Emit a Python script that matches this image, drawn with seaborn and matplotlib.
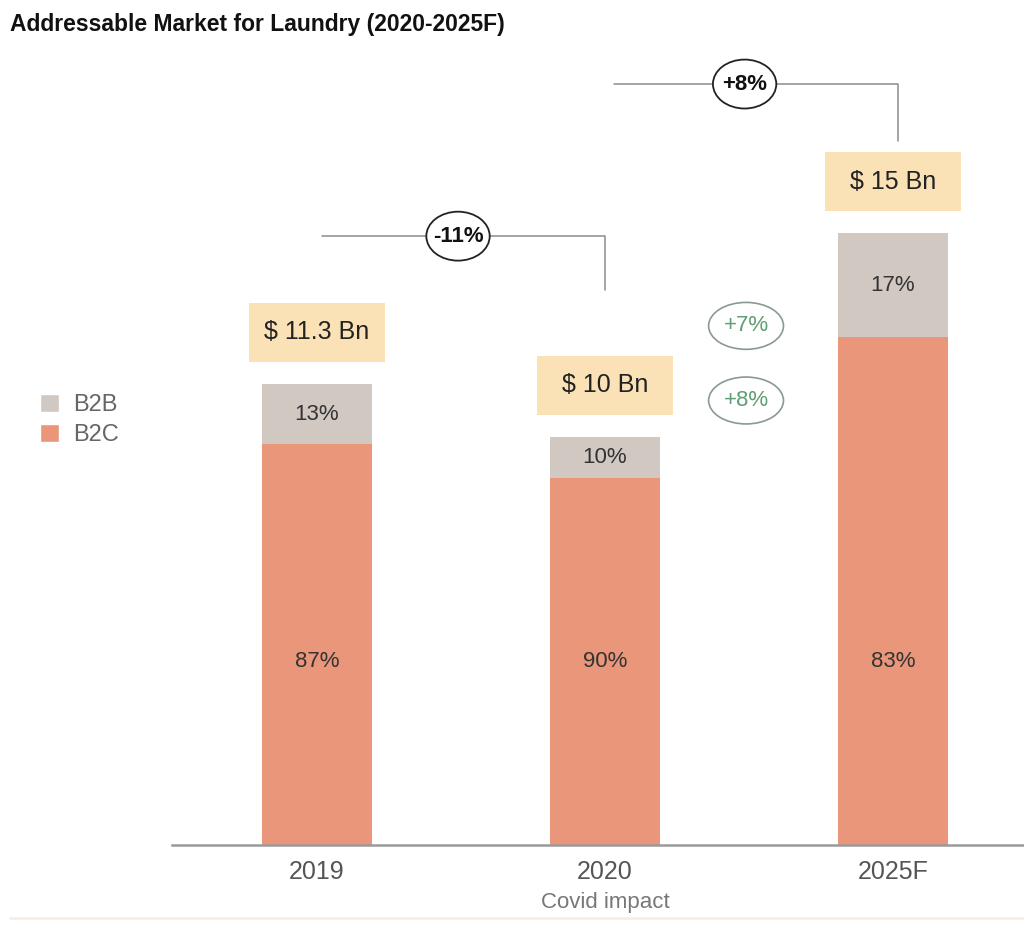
import matplotlib
matplotlib.use("Agg")
import matplotlib.pyplot as plt
import seaborn as sns
import pandas as pd
from matplotlib.patches import Rectangle, Ellipse, Patch

# ── DATA ──────────────────────────────────────────────────────────────────────
years     = ["2019", "2020", "2025F"]
totals    = [11.3, 10.0, 15.0]          # $ Bn
b2b_share = [13, 10, 17]                # %
b2c_share = [87, 90, 83]                # %
value_lbl = ["$ 11.3 Bn", "$ 10 Bn", "$ 15 Bn"]
growth_lbl = ["-11%", "+8%"]            # 2019->2020, 2020->2025F
seg_growth = ["+7%", "+8%"]             # B2B, B2C CAGR

df = pd.DataFrame({"year": years, "total": totals,
                   "b2b": b2b_share, "b2c": b2c_share})
df["b2c_val"] = df["total"] * df["b2c"] / 100

# ── STYLE ─────────────────────────────────────────────────────────────────────
sns.set_theme(style="white")
plt.rcParams["font.family"] = ["Liberation Sans", "DejaVu Sans"]
ORANGE = "#E9967A"
GRAY   = "#D2C8C2"
BOX    = "#FBE2B6"
LINE   = "#8C8C8C"
GREEN  = "#5E9E70"

fig = plt.figure(figsize=(10.24, 9.25), dpi=100)
ax = fig.add_axes([172 / 1024, 80 / 925, 1 - 172 / 1024, 805 / 925])

# total bar (gray = B2B on top) then B2C over it
sns.barplot(data=df, x="year", y="total", color=GRAY, width=0.38,
            saturation=1, linewidth=0, ax=ax)
sns.barplot(data=df, x="year", y="b2c_val", color=ORANGE, width=0.38,
            saturation=1, linewidth=0, ax=ax)

ax.set_xlim(-0.503, 2.455)
ax.set_ylim(0, 19.74)

for i, row in df.iterrows():
    b2b_val = row["total"] - row["b2c_val"]
    ax.text(i, row["b2c_val"] + b2b_val / 2, f'{row["b2b"]}%',
            ha="center", va="center", fontsize=16, color="#333333")
    ax.text(i, 4.5, f'{row["b2c"]}%',
            ha="center", va="center", fontsize=16, color="#333333")
    # value box above each bar
    yc = row["total"] + 1.27
    ax.add_patch(Rectangle((i - 0.235, yc - 0.73), 0.47, 1.46,
                           facecolor=BOX, edgecolor="none", zorder=3))
    ax.text(i, yc, value_lbl[i], ha="center", va="center",
            fontsize=18, color="#222222", zorder=4)

# growth brackets
def bracket(x0, x1, y, drop, label, lx):
    ax.plot([x0, x1, x1], [y, y, y - drop], color=LINE, lw=1.1, zorder=2)
    ax.add_patch(Ellipse((lx, y), 0.22, 1.2, facecolor="white",
                         edgecolor="#222222", lw=1.3, zorder=5))
    ax.text(lx, y, label, ha="center", va="center", fontsize=16,
            fontweight="bold", color="#111111", zorder=6)

bracket(0.017, 1.0, 14.93, 1.32, growth_lbl[0], 0.49)
bracket(1.03, 2.017, 18.66, 1.40, growth_lbl[1], 1.485)

# segment growth ellipses
for lbl, y in zip(seg_growth, [12.73, 10.9]):
    ax.add_patch(Ellipse((1.49, y), 0.26, 1.15, facecolor="white",
                         edgecolor="#8A9A8E", lw=1.2, zorder=5))
    ax.text(1.49, y, lbl, ha="center", va="center", fontsize=16,
            color=GREEN, zorder=6)

# axes cosmetics
for s in ["top", "right", "left"]:
    ax.spines[s].set_visible(False)
ax.spines["bottom"].set_color("#9A9A9A")
ax.spines["bottom"].set_linewidth(1.8)
ax.set_yticks([])
ax.set_xlabel("")
ax.set_ylabel("")
ax.tick_params(axis="x", length=0, pad=11, labelsize=18, labelcolor="#555555")

ax.text(1, -0.071, "Covid impact", transform=ax.get_xaxis_transform(),
        ha="center", va="center", fontsize=16, color="#777777")

# legend
handles = [Patch(facecolor=GRAY, label="B2B"),
           Patch(facecolor=ORANGE, label="B2C")]
fig.legend(handles=handles, loc="center left", bbox_to_anchor=(0.018, 0.546),
           frameon=False, fontsize=17, labelcolor="#666666",
           handlelength=0.8, handleheight=0.8, handletextpad=0.6,
           labelspacing=0.35)

fig.text(10 / 1024, 1 - 25 / 925, "Addressable Market for Laundry (2020-2025F)",
         ha="left", va="center", fontsize=16.5, fontweight="bold",
         color="#111111")

fig.add_artist(plt.Line2D([10 / 1024, 1], [1 - 918 / 925] * 2,
                          color="#FBEDE3", lw=2))

fig.savefig("out.png", dpi=100)
